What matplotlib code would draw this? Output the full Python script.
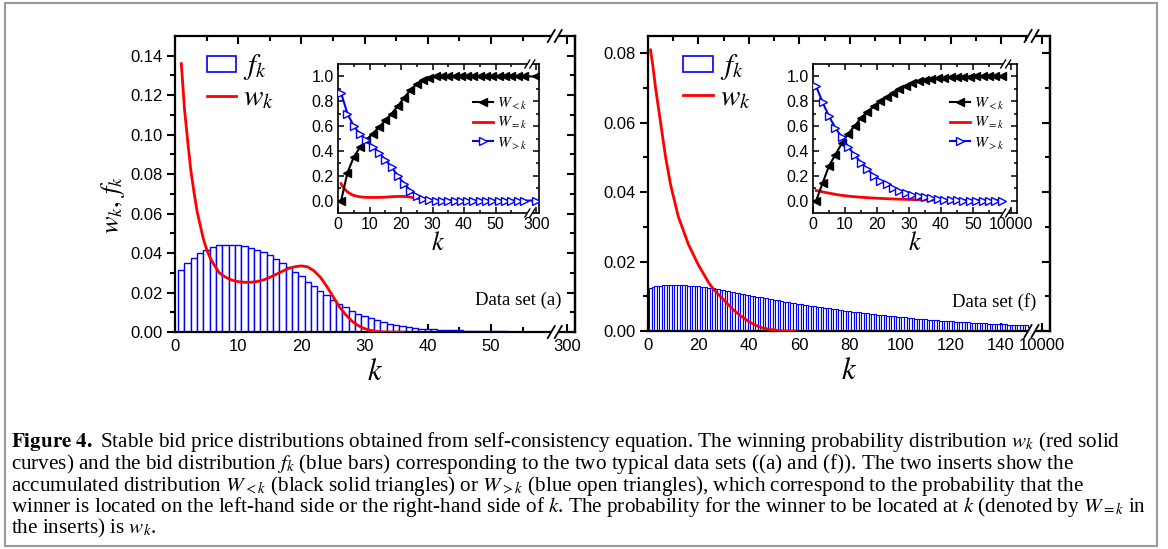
import numpy as np
import matplotlib
matplotlib.use("Agg")
import matplotlib.pyplot as plt
from matplotlib.lines import Line2D
from matplotlib.patches import Rectangle

plt.rcParams['mathtext.fontset'] = 'stix'
plt.rcParams['font.family'] = 'Liberation Sans'

# ---------------- data set (a) ----------------
k_bar_a = np.arange(1, 56)
f_a = [0.0316, 0.0350, 0.0376, 0.0398, 0.0415, 0.0431, 0.0439, 0.0443, 0.0443, 0.0441,
       0.0436, 0.0427, 0.0415, 0.0403, 0.0388, 0.0371, 0.0350, 0.0330, 0.0306, 0.0282,
       0.0255, 0.0231, 0.0209, 0.0185, 0.0162, 0.0142, 0.0125, 0.0108, 0.0091, 0.0080,
       0.0070, 0.0060, 0.0051, 0.0043, 0.0036, 0.0029, 0.0024, 0.0021, 0.0017, 0.0015,
       0.0013, 0.0011, 0.0010, 0.0009, 0.0008, 0.0007, 0.0006, 0.0005, 0.0004, 0.0004,
       0.0003, 0.0003, 0.0002, 0.0002, 0.0001]
k_w_a = [1, 1.5, 2, 2.5, 3, 3.5, 4, 4.5, 5, 5.5, 6, 7, 8, 9, 10, 11, 12, 13, 14, 15, 16,
         17, 18, 19, 20, 21, 22, 23, 24, 25, 26, 27, 28, 29, 30, 31, 32, 33, 34, 36]
w_a = [0.136, 0.113, 0.097, 0.082, 0.071, 0.061, 0.054, 0.047, 0.042, 0.038, 0.035,
       0.030, 0.0278, 0.0263, 0.0255, 0.0252, 0.0252, 0.0256, 0.0264, 0.0277, 0.0292,
       0.0308, 0.0322, 0.0331, 0.0335, 0.0330, 0.0310, 0.0278, 0.0232, 0.0180, 0.0128,
       0.0088, 0.0055, 0.0032, 0.0017, 0.0008, 0.0003, 0.0001, 0.0, 0.0]

# inset (a): odd k, last point is the k = 300 position
k_in_a = [1, 3, 5, 7, 9, 11, 13, 15, 17, 19, 21, 23, 25, 27, 29, 31, 33, 35, 37, 39,
          41, 43, 45, 47, 49, 51, 53, 55, 57, 59, 63]
W_lt_a = [0.0, 0.225, 0.35, 0.43, 0.49, 0.54, 0.59, 0.645, 0.70, 0.76, 0.83, 0.89,
          0.94, 0.975, 0.99, 1.0, 1.0, 1.0, 1.0, 1.0, 1.0, 1.0, 1.0, 1.0, 1.0, 1.0,
          1.0, 1.0, 1.0, 1.0, 1.0]
W_gt_a = [0.865, 0.70, 0.60, 0.535, 0.485, 0.435, 0.385, 0.33, 0.27, 0.20, 0.135,
          0.08, 0.04, 0.015, 0.005, 0.0, 0.0, 0.0, 0.0, 0.0, 0.0, 0.0, 0.0, 0.0, 0.0,
          0.0, 0.0, 0.0, 0.0, 0.0, 0.0]

# ---------------- data set (f) ----------------
k_bar_f = np.arange(1, 151)
f_f = [0.0125, 0.0127, 0.0129, 0.0130, 0.0131, 0.0132, 0.0132, 0.0133, 0.0133, 0.0133,
       0.0133, 0.0133, 0.0132, 0.0132, 0.0132, 0.0131, 0.0131, 0.0130, 0.0130, 0.0129,
       0.0128, 0.0127, 0.0126, 0.0125, 0.0124, 0.0123, 0.0121, 0.0120, 0.0119, 0.0117,
       0.0116, 0.0114, 0.0113, 0.0111, 0.0110, 0.0109, 0.0107, 0.0106, 0.0104, 0.0103,
       0.0102, 0.0100, 0.0099, 0.0098, 0.0097, 0.0095, 0.0094, 0.0093, 0.0091, 0.0090,
       0.0089, 0.0088, 0.0086, 0.0085, 0.0084, 0.0083, 0.0082, 0.0080, 0.0079, 0.0078,
       0.0077, 0.0076, 0.0074, 0.0073, 0.0072, 0.0071, 0.0070, 0.0069, 0.0068, 0.0067,
       0.0066, 0.0065, 0.0064, 0.0063, 0.0062, 0.0061, 0.0060, 0.0059, 0.0058, 0.0057,
       0.0056, 0.0055, 0.0054, 0.0054, 0.0053, 0.0052, 0.0051, 0.0050, 0.0049, 0.0048,
       0.0047, 0.0046, 0.0046, 0.0045, 0.0044, 0.0043, 0.0042, 0.0042, 0.0041, 0.0040,
       0.0039, 0.0039, 0.0038, 0.0037, 0.0037, 0.0036, 0.0035, 0.0035, 0.0034, 0.0034,
       0.0033, 0.0032, 0.0032, 0.0031, 0.0031, 0.0030, 0.0030, 0.0029, 0.0029, 0.0028,
       0.0028, 0.0027, 0.0027, 0.0026, 0.0026, 0.0025, 0.0025, 0.0024, 0.0024, 0.0023,
       0.0023, 0.0022, 0.0022, 0.0022, 0.0021, 0.0021, 0.0020, 0.0020, 0.0020, 0.0019,
       0.0019, 0.0019, 0.0018, 0.0018, 0.0018, 0.0017, 0.0017, 0.0017, 0.0016, 0.0016]
k_w_f = [1, 2, 3, 4, 5, 6, 7, 8, 9, 10, 12, 14, 16, 18, 20, 22, 24, 26, 28, 30, 32, 34,
         36, 38, 40, 42, 44, 46, 48, 50, 52, 54, 58]
w_f = [0.081, 0.076, 0.070, 0.065, 0.060, 0.055, 0.050, 0.046, 0.042, 0.039, 0.033,
       0.029, 0.025, 0.022, 0.019, 0.0165, 0.014, 0.012, 0.0105, 0.009, 0.0075, 0.006,
       0.0048, 0.0037, 0.0027, 0.0019, 0.0012, 0.0008, 0.0005, 0.0003, 0.0001, 0.0, 0.0]

k_in_f = [1, 3, 5, 7, 9, 11, 13, 15, 17, 19, 21, 23, 25, 27, 29, 31, 33, 35, 37, 39,
          41, 43, 45, 47, 49, 51, 53, 55, 57, 59]
W_lt_f = [0.0, 0.14, 0.28, 0.37, 0.46, 0.54, 0.60, 0.665, 0.715, 0.76, 0.80, 0.835,
          0.865, 0.895, 0.92, 0.945, 0.96, 0.97, 0.98, 0.985, 0.99, 0.993, 0.995,
          0.997, 0.998, 1.0, 1.0, 1.0, 1.0, 1.0]
W_gt_f = [0.92, 0.79, 0.68, 0.585, 0.51, 0.43, 0.37, 0.305, 0.255, 0.20, 0.16, 0.13,
          0.10, 0.08, 0.06, 0.047, 0.035, 0.025, 0.017, 0.01, 0.006, 0.003, 0.001,
          0.0, 0.0, 0.0, 0.0, 0.0, 0.0, 0.0]

caption = [
    r"$\mathbf{Figure\ 4.}$ Stable bid price distributions obtained from self-consistency equation. The winning probability distribution $w_k$ (red solid",
    r"curves) and the bid distribution $f_k$ (blue bars) corresponding to the two typical data sets ((a) and (f)). The two inserts show the",
    r"accumulated distribution $W_{<k}$ (black solid triangles) or $W_{>k}$ (blue open triangles), which correspond to the probability that the",
    r"winner is located on the left-hand side or the right-hand side of $k$. The probability for the winner to be located at $k$ (denoted by $W_{=k}$ in",
    r"the inserts) is $w_k$.",
]

FW, FH = 1168, 549
fig = plt.figure(figsize=(FW / 100, FH / 100), dpi=100)


def px_axes(x0, y0, x1, y1):
    return fig.add_axes([x0 / FW, 1 - y1 / FH, (x1 - x0) / FW, (y1 - y0) / FH])


def axis_break(ax, xb, gap=3.5, h=6, slant=3.5, lw=1.3):
    pos = ax.get_position()
    W = pos.width * FW
    H = pos.height * FH
    x0, x1 = ax.get_xlim()
    xa = (xb - x0) / (x1 - x0)
    for yb in (0, 1):
        ax.plot([xa - gap / W, xa + gap / W], [yb, yb], color='white', lw=4,
                transform=ax.transAxes, clip_on=False, zorder=10, solid_capstyle='butt')
        for s in (-gap, gap):
            ax.plot([xa + (s - slant) / W, xa + (s + slant) / W], [yb - h / H, yb + h / H],
                    color='black', lw=lw, transform=ax.transAxes, clip_on=False, zorder=11)


def style_main(ax, xmaj, xlab, xmin, ymaj, ymin, ylim, xlim):
    ax.set_xlim(*xlim)
    ax.set_ylim(*ylim)
    for s in ax.spines.values():
        s.set_linewidth(1.6)
    ax.set_xticks(xmaj)
    ax.set_xticklabels(xlab)
    ax.set_xticks(xmin, minor=True)
    ax.set_yticks(ymaj)
    ax.set_yticklabels(["%.2f" % v for v in ymaj])
    ax.set_yticks(ymin, minor=True)
    ax.tick_params(axis='x', which='both', direction='in', top=True, width=1.5,
                   labelsize=12, pad=5)
    ax.tick_params(axis='x', which='major', length=6)
    ax.tick_params(axis='x', which='minor', length=3.5)
    ax.tick_params(axis='y', which='both', direction='out', width=1.5, labelsize=12, pad=3)
    ax.tick_params(axis='y', which='major', length=6)
    ax.tick_params(axis='y', which='minor', length=3.5)
    sec = ax.secondary_yaxis('right')
    sec.set_yticks(ymaj)
    sec.set_yticks(ymin, minor=True)
    sec.tick_params(which='both', direction='in', width=1.5, labelright=False)
    sec.tick_params(which='major', length=6)
    sec.tick_params(which='minor', length=3.5)
    sec.spines['right'].set_linewidth(1.6)


def style_inset(ax, xmaj, xlab, xmin, xlim):
    ax.set_xlim(*xlim)
    ax.set_ylim(-0.1, 1.1)
    for s in ax.spines.values():
        s.set_linewidth(1.2)
    ax.set_xticks(xmaj)
    ax.set_xticklabels(xlab)
    ax.set_xticks(xmin, minor=True)
    ax.set_yticks([0, 0.2, 0.4, 0.6, 0.8, 1.0])
    ax.set_yticklabels(["0.0", "0.2", "0.4", "0.6", "0.8", "1.0"])
    ax.set_yticks([0.1, 0.3, 0.5, 0.7, 0.9], minor=True)
    ax.tick_params(which='both', direction='in', top=True, right=True, width=1.1,
                   labelsize=11.5, pad=3)
    ax.tick_params(which='major', length=4)
    ax.tick_params(which='minor', length=2.5)
    ax.set_xlabel(r'$k$', fontsize=19, labelpad=-1)


serif = 'Liberation Serif'
h1 = [Rectangle((0, 0), 1, 1, facecolor='white', edgecolor='#0000ff', lw=1.2),
      Line2D([], [], color='#ff0000', lw=2)]
leg1 = dict(loc='upper left', frameon=False, fontsize=21, handlelength=1.0,
            handleheight=0.5, handletextpad=0.25, labelspacing=0.02, borderaxespad=0,
            borderpad=0)

# ---------------- left main panel ----------------
axL = px_axes(175, 36, 575, 332)
axL.bar(k_bar_a, f_a, width=1.0, color='white', edgecolor='#0000ff', linewidth=1.0, zorder=2)
axL.plot(k_w_a, w_a, color='#ff0000', lw=2, zorder=3)
style_main(axL, [0, 10, 20, 30, 40, 50, 62.1], ['0', '10', '20', '30', '40', '50', '300'],
           [5, 15, 25, 35, 45, 55], np.arange(0, 0.141, 0.02), np.arange(0.01, 0.141, 0.02),
           (0, 0.150), (0, 63.3))
axL.set_xlabel(r'$k$', fontsize=22, labelpad=2)
axL.set_ylabel(r'$w_k,\,f_k$', fontsize=19)
axL.yaxis.set_label_coords(-0.12, 0.43)
axL.text(0.967, 0.106, 'Data set (a)', transform=axL.transAxes, ha='right', va='center',
         family=serif, fontsize=13.5)
axL.legend(h1, [r'$f_k$', r'$w_k$'], bbox_to_anchor=(0.08, 0.945), **leg1)
axis_break(axL, 60.1)

# ---------------- right main panel ----------------
axR = px_axes(648, 36, 1050, 331)
axR.bar(k_bar_f, f_f, width=1.0, color='white', edgecolor='#0000ff', linewidth=0.8, zorder=2)
axR.plot(k_w_f, w_f, color='#ff0000', lw=2, zorder=3)
style_main(axR, [0, 20, 40, 60, 80, 100, 120, 140, 156.1],
           ['0', '20', '40', '60', '80', '100', '120', '140', '10000'],
           [10, 30, 50, 70, 90, 110, 130, 150], np.arange(0, 0.081, 0.02),
           np.arange(0.01, 0.081, 0.02), (0, 0.085), (0, 159.4))
axR.set_xlabel(r'$k$', fontsize=22, labelpad=2)
axR.text(0.965, 0.099, 'Data set (f)', transform=axR.transAxes, ha='right', va='center',
         family=serif, fontsize=13.5)
axR.legend(h1, [r'$f_k$', r'$w_k$'], bbox_to_anchor=(0.088, 0.945), **leg1)
axis_break(axR, 152.1)

# ---------------- insets ----------------
h2 = [Line2D([], [], color='black', lw=1.5, marker='<', ms=6),
      Line2D([], [], color='#ff0000', lw=2),
      Line2D([], [], color='#0000ff', lw=1.5, marker='>', ms=6, mfc='white')]
lab2 = [r'$W_{<k}$', r'$W_{=k}$', r'$W_{>k}$']

for (box, kin, Wl, Wg, kw, ww, xt, xl, xb, xlim) in [
        ((338, 64, 539, 213), k_in_a, W_lt_a, W_gt_a, k_w_a, w_a,
         [0, 10, 20, 30, 40, 50, 63], ['0', '10', '20', '30', '40', '50', '300'], 60.9, (0, 63.8)),
        ((813, 64, 1017, 213), k_in_f, W_lt_f, W_gt_f, k_w_f, w_f,
         [0, 10, 20, 30, 40, 50, 62], ['0', '10', '20', '30', '40', '50', '10000'], 60.2, (0, 63.75))]:
    ax = px_axes(*box)
    ax.plot(kw, ww, color='#ff0000', lw=2, zorder=2)
    ax.plot(kin, Wl, color='black', lw=1.5, marker='<', ms=6, zorder=3)
    ax.plot(kin, Wg, color='#0000ff', lw=1.5, marker='>', ms=6, mfc='white', zorder=4)
    style_inset(ax, xt, xl, [5, 15, 25, 35, 45, 55], xlim)
    ax.legend(h2, lab2, loc='upper left', bbox_to_anchor=(0.64, 0.83), frameon=False,
              fontsize=11, handlelength=1.3, handletextpad=0.3, labelspacing=0.25,
              borderaxespad=0)
    axis_break(ax, xb, gap=2.5, h=4, slant=2.5, lw=1.0)

# ---------------- caption and frame ----------------
fig.text(11 / FW, 1 - 430 / FH, "\n".join(caption), family=serif, fontsize=15.2,
         va='top', ha='left', linespacing=0.87)

fig.add_artist(Rectangle((5 / FW, 1 - 546 / FH), 1152 / FW, 543 / FH, transform=fig.transFigure,
                         fill=False, edgecolor='#999999', lw=1.5))

fig.savefig('out.png', dpi=100)
